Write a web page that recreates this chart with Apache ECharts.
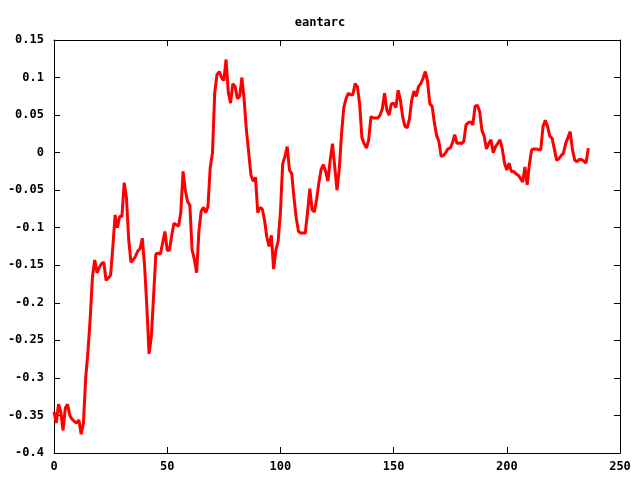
<!DOCTYPE html>
<html>
<head>
<meta charset="utf-8">
<script src="https://cdn.jsdelivr.net/npm/echarts@6/dist/echarts.min.js"></script>
<style>html,body{margin:0;padding:0;background:#fff}#c{width:640px;height:480px}</style>
</head>
<body>
<div id="c"></div>
<script>
var titleText = "eantarc";
var xTicks = [0, 50, 100, 150, 200, 250];
var yTicks = [-0.4, -0.35, -0.3, -0.25, -0.2, -0.15, -0.1, -0.05, 0, 0.05, 0.1, 0.15];
var values = [
-0.345,-0.36,-0.335,-0.345,-0.37,-0.34,-0.335,-0.35,-0.355,-0.358,
-0.36,-0.356,-0.375,-0.36,-0.3,-0.265,-0.22,-0.165,-0.143,-0.16,
-0.153,-0.148,-0.146,-0.17,-0.167,-0.163,-0.125,-0.083,-0.1,-0.085,
-0.085,-0.04,-0.06,-0.116,-0.146,-0.143,-0.138,-0.131,-0.128,-0.114,
-0.15,-0.205,-0.268,-0.245,-0.19,-0.135,-0.134,-0.135,-0.12,-0.105,
-0.13,-0.13,-0.11,-0.094,-0.096,-0.098,-0.08,-0.025,-0.05,-0.065,
-0.07,-0.13,-0.142,-0.16,-0.105,-0.078,-0.073,-0.08,-0.072,-0.02,
0.0,0.08,0.104,0.108,0.1,0.096,0.124,0.08,0.066,0.092,
0.088,0.072,0.075,0.1,0.07,0.03,0.0,-0.03,-0.038,-0.033,
-0.08,-0.073,-0.075,-0.09,-0.112,-0.125,-0.11,-0.155,-0.13,-0.118,
-0.08,-0.015,-0.005,0.008,-0.023,-0.028,-0.06,-0.087,-0.105,-0.107,
-0.107,-0.107,-0.079,-0.048,-0.076,-0.079,-0.062,-0.04,-0.022,-0.016,
-0.025,-0.038,-0.01,0.012,-0.019,-0.05,-0.022,0.025,0.06,0.072,
0.079,0.077,0.077,0.092,0.088,0.065,0.02,0.012,0.006,0.017,
0.048,0.046,0.046,0.046,0.05,0.058,0.079,0.057,0.05,0.065,
0.066,0.06,0.083,0.07,0.048,0.035,0.033,0.045,0.07,0.082,
0.075,0.088,0.092,0.099,0.108,0.095,0.065,0.062,0.04,0.023,
0.015,-0.005,-0.004,0.0,0.005,0.006,0.013,0.024,0.012,0.013,
0.012,0.015,0.037,0.04,0.041,0.037,0.062,0.063,0.055,0.03,
0.022,0.005,0.012,0.017,0.0,0.008,0.012,0.017,0.005,-0.014,
-0.023,-0.014,-0.025,-0.025,-0.028,-0.03,-0.034,-0.039,-0.019,-0.043,
-0.015,0.004,0.005,0.005,0.004,0.004,0.035,0.043,0.035,0.022,
0.019,0.005,-0.01,-0.008,-0.004,-0.001,0.012,0.02,0.028,0.004,
-0.01,-0.012,-0.009,-0.009,-0.011,-0.014,0.006
];
var seriesData = values.map(function(v, i){ return [i, v]; });
var font = "DejaVu Sans Mono";
function fmt(v){ return String(parseFloat(v.toFixed(2))); }
function xAx(pos, show){
  return {type:'value', position:pos, min:xTicks[0], max:xTicks[xTicks.length-1], interval:50,
    axisLine:{show:true, onZero:false, lineStyle:{color:'#000', width:1}},
    axisTick:{show:true, inside:true, length:6, lineStyle:{color:'#000'}},
    axisLabel:{show:show, color:'#000', fontFamily:font, fontSize:12, fontWeight:'bold', margin:8, formatter:fmt},
    splitLine:{show:false}};
}
function yAx(pos, show){
  return {type:'value', position:pos, min:yTicks[0], max:yTicks[yTicks.length-1], interval:0.05,
    axisLine:{show:true, onZero:false, lineStyle:{color:'#000', width:1}},
    axisTick:{show:true, inside:true, length:6, lineStyle:{color:'#000'}},
    axisLabel:{show:show, color:'#000', fontFamily:font, fontSize:12, fontWeight:'bold', margin:10, formatter:fmt},
    splitLine:{show:false}};
}
var chart = echarts.init(document.getElementById('c'), null, {renderer:'canvas'});
chart.setOption({
  animation:false,
  backgroundColor:'#fff',
  title:{text:titleText, left:'center', top:12, textStyle:{fontFamily:font, fontSize:12, fontWeight:'bold', color:'#000'}},
  grid:{left:54, right:20, top:40, bottom:27, containLabel:false},
  xAxis:[xAx('bottom', true), xAx('top', false)],
  yAxis:[yAx('left', true), yAx('right', false)],
  series:[{type:'line', data:seriesData, showSymbol:false, xAxisIndex:0, yAxisIndex:0,
    lineStyle:{color:'#ff0000', width:3}, itemStyle:{color:'#ff0000'}}]
});
</script>
</body>
</html>
